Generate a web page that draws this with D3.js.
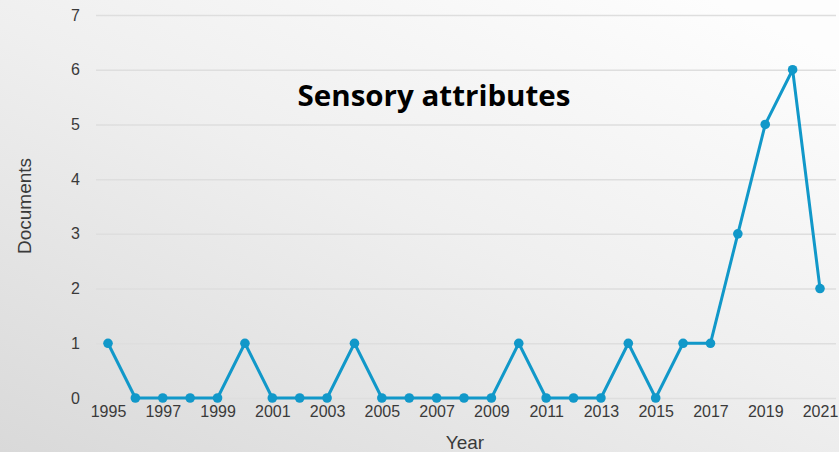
<!DOCTYPE html>
<html>
<head>
<meta charset="utf-8">
<script src="https://cdn.jsdelivr.net/npm/d3@7"></script>
<style>
  html, body { margin: 0; padding: 0; }
  svg { display: block; }
</style>
</head>
<body>
<svg id="chart" width="839" height="452"></svg>
<script>
// Documents per year on sensory attributes
const years = [1995,1996,1997,1998,1999,2000,2001,2002,2003,2004,2005,2006,2007,2008,2009,2010,2011,2012,2013,2014,2015,2016,2017,2018,2019,2020,2021];
const documents = [1,0,0,0,0,1,0,0,0,1,0,0,0,0,0,1,0,0,0,1,0,1,1,3,5,6,2];
const yTicks = [0,1,2,3,4,5,6,7];
const xTickYears = [1995,1997,1999,2001,2003,2005,2007,2009,2011,2013,2015,2017,2019,2021];
const titleText = "Sensory attributes";
const xLabel = "Year";
const yLabel = "Documents";

const W = 839, H = 452;
const svg = d3.select("#chart");

// soft grey backdrop, brighter toward the top right
const defs = svg.append("defs");
const grad = defs.append("linearGradient").attr("id", "bg")
  .attr("x1", "0%").attr("y1", "100%").attr("x2", "85%").attr("y2", "0%");
grad.append("stop").attr("offset", "0%").attr("stop-color", "#d9d9d9");
grad.append("stop").attr("offset", "55%").attr("stop-color", "#efefef");
grad.append("stop").attr("offset", "100%").attr("stop-color", "#fdfdfd");
svg.append("rect").attr("width", W).attr("height", H).attr("fill", "url(#bg)");

const x = d3.scaleLinear().domain([1995, 2021]).range([108, 820]);
const y = d3.scaleLinear().domain([0, 7]).range([398, 15]);

const labelFont = "Liberation Sans, Arial, sans-serif";

// horizontal grid
svg.append("g")
  .attr("transform", "translate(96,0)")
  .call(d3.axisLeft(y).tickValues(yTicks).tickSize(-740).tickFormat(""))
  .call(g => g.select(".domain").remove())
  .call(g => g.selectAll("line").attr("stroke", "#dedede").attr("stroke-width", 1.5));

// y tick labels
svg.append("g")
  .attr("transform", "translate(80,0)")
  .call(d3.axisLeft(y).tickValues(yTicks).tickSize(0).tickPadding(0).tickFormat(d3.format("d")))
  .call(g => g.select(".domain").remove())
  .call(g => g.selectAll("text")
    .attr("font-family", labelFont)
    .attr("font-size", 16).attr("fill", "#3a3a3a"));

// x tick labels
svg.append("g")
  .attr("transform", "translate(0,406)")
  .call(d3.axisBottom(x).tickValues(xTickYears).tickSize(0).tickPadding(0).tickFormat(d3.format("d")))
  .call(g => g.select(".domain").remove())
  .call(g => g.selectAll("text")
    .attr("font-family", labelFont)
    .attr("font-size", 16).attr("fill", "#3a3a3a"));

// axis titles
svg.append("text")
  .attr("x", 465).attr("y", 449)
  .attr("text-anchor", "middle")
  .attr("font-family", labelFont)
  .attr("font-size", 19).attr("fill", "#3a3a3a")
  .text(xLabel);

svg.append("text")
  .attr("transform", "translate(31,206) rotate(-90)")
  .attr("text-anchor", "middle")
  .attr("font-family", labelFont)
  .attr("font-size", 19).attr("fill", "#3a3a3a")
  .text(yLabel);

// series
const data = years.map((yr, i) => ({ year: yr, value: documents[i] }));
const color = "#1198c9";

svg.append("path")
  .datum(data)
  .attr("fill", "none")
  .attr("stroke", color)
  .attr("stroke-width", 3)
  .attr("stroke-linejoin", "round")
  .attr("d", d3.line().x(d => x(d.year)).y(d => y(d.value)));

svg.append("g").selectAll("circle")
  .data(data)
  .join("circle")
  .attr("cx", d => x(d.year))
  .attr("cy", d => y(d.value))
  .attr("r", 4.8)
  .attr("fill", color);

// chart title
svg.append("text")
  .attr("x", 434).attr("y", 106)
  .attr("text-anchor", "middle")
  .attr("font-family", "'Open Sans', Lato, sans-serif")
  .attr("font-weight", "bold")
  .attr("font-size", 28.5).attr("fill", "#000")
  .attr("textLength", 273).attr("lengthAdjust", "spacingAndGlyphs")
  .text(titleText);
</script>
</body>
</html>
